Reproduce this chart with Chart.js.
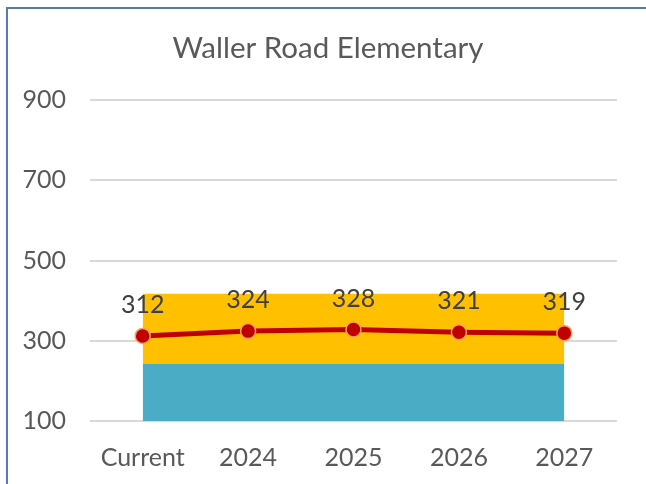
<!DOCTYPE html>
<html>
<head>
<meta charset="utf-8">
<script src="https://cdn.jsdelivr.net/npm/chart.js@4"></script>
<style>
  html, body { margin: 0; padding: 0; background: #fff; }
  #wrap { position: relative; width: 646px; height: 484px; overflow: hidden; }
  #frame { position: absolute; left: 6px; top: 7px; width: 700px; height: 600px;
           border-left: 2px solid #5a7aa8; border-top: 2px solid #5a7aa8; }
  #c { position: absolute; left: 0; top: 0; }
</style>
</head>
<body>
<div id="wrap">
  <div id="frame"></div>
  <canvas id="c" width="646" height="484"></canvas>
</div>
<script>
const categories = ["Current", "2024", "2025", "2026", "2027"];
const enrollment = [312, 324, 328, 321, 319];
const lowerBand = [242, 242, 242, 242, 242];
const upperBand = [417, 417, 417, 417, 417];
const yTicks = [100, 300, 500, 700, 900];
const chartTitle = "Waller Road Elementary";

const fontFamily = "Lato, 'Open Sans', sans-serif";
const textColor = "#595959";

// title drawn by hand so it sits where Excel put it (a bit right of centre)
const titleText = {
  id: 'titleText',
  afterDraw(chart) {
    const ctx = chart.ctx;
    ctx.save();
    ctx.font = "29.5px " + fontFamily;
    ctx.fillStyle = textColor;
    ctx.textAlign = "center";
    ctx.textBaseline = "middle";
    ctx.fillText(chartTitle, 328, 48);
    ctx.restore();
  }
};

// draws the numbers above the red points
const pointLabels = {
  id: 'pointLabels',
  afterDatasetsDraw(chart) {
    const ctx = chart.ctx;
    const meta = chart.getDatasetMeta(0);
    ctx.save();
    ctx.font = "25px " + fontFamily;
    ctx.fillStyle = "#404040";
    ctx.textAlign = "center";
    ctx.textBaseline = "middle";
    meta.data.forEach((pt, i) => {
      ctx.fillText(String(enrollment[i]), pt.x, pt.y - 31);
    });
    ctx.restore();
  }
};

new Chart(document.getElementById("c"), {
  type: 'line',
  data: {
    labels: categories,
    datasets: [
      {
        label: "Enrollment",
        data: enrollment,
        borderColor: "#c00000",
        borderWidth: 5,
        backgroundColor: "#c00000",
        pointRadius: 7.5,
        pointBorderColor: "#f4a15a",
        pointBorderWidth: 1.5,
        pointBackgroundColor: "#c00000",
        fill: false,
        order: 0
      },
      {
        label: "Capacity",
        data: lowerBand,
        borderWidth: 0,
        pointRadius: 0,
        backgroundColor: "#4bacc6",
        fill: 'start',
        order: 2
      },
      {
        label: "Max",
        data: upperBand,
        borderWidth: 0,
        pointRadius: 0,
        backgroundColor: "#ffc000",
        fill: '-1',
        order: 1
      }
    ]
  },
  options: {
    responsive: false,
    animation: false,
    layout: { padding: { left: 0, right: 29, top: 100, bottom: 0 } },
    plugins: {
      legend: { display: false },
      tooltip: { enabled: false },
      title: { display: false }
    },
    scales: {
      x: {
        offset: true,
        afterFit(axis) { axis.height = 63; },
        grid: { display: false, drawTicks: false },
        border: { display: false },
        ticks: { color: textColor, font: { family: fontFamily, size: 25 }, padding: 22 }
      },
      y: {
        min: 100,
        max: 900,
        afterBuildTicks(axis) { axis.ticks = yTicks.map(v => ({ value: v })); },
        afterFit(axis) { axis.width = 90; },
        grid: { color: "#d9d9d9", lineWidth: 2, drawTicks: false },
        border: { display: false },
        ticks: { color: textColor, font: { family: fontFamily, size: 25 }, padding: 24 }
      }
    }
  },
  plugins: [pointLabels, titleText]
});
</script>
</body>
</html>
